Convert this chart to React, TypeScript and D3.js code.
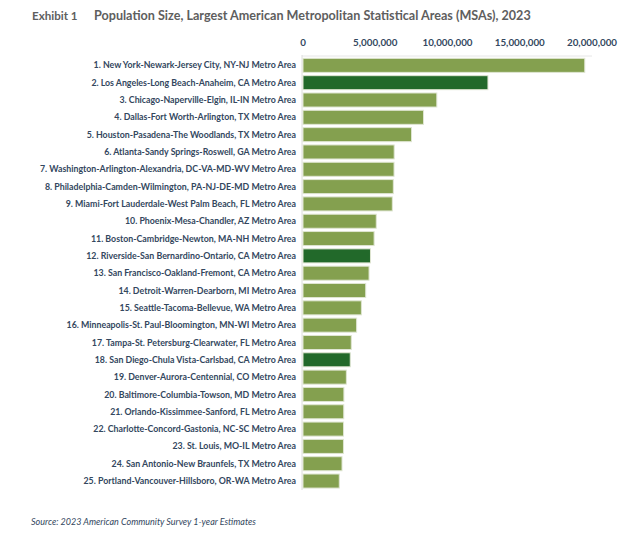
import React from "react";
import * as d3 from "d3";

const metros: string[] = [
  "1. New York-Newark-Jersey City, NY-NJ Metro Area",
  "2. Los Angeles-Long Beach-Anaheim, CA Metro Area",
  "3. Chicago-Naperville-Elgin, IL-IN Metro Area",
  "4. Dallas-Fort Worth-Arlington, TX Metro Area",
  "5. Houston-Pasadena-The Woodlands, TX Metro Area",
  "6. Atlanta-Sandy Springs-Roswell, GA Metro Area",
  "7. Washington-Arlington-Alexandria, DC-VA-MD-WV Metro Area",
  "8. Philadelphia-Camden-Wilmington, PA-NJ-DE-MD Metro Area",
  "9. Miami-Fort Lauderdale-West Palm Beach, FL Metro Area",
  "10. Phoenix-Mesa-Chandler, AZ Metro Area",
  "11. Boston-Cambridge-Newton, MA-NH Metro Area",
  "12. Riverside-San Bernardino-Ontario, CA Metro Area",
  "13. San Francisco-Oakland-Fremont, CA Metro Area",
  "14. Detroit-Warren-Dearborn, MI Metro Area",
  "15. Seattle-Tacoma-Bellevue, WA Metro Area",
  "16. Minneapolis-St. Paul-Bloomington, MN-WI Metro Area",
  "17. Tampa-St. Petersburg-Clearwater, FL Metro Area",
  "18. San Diego-Chula Vista-Carlsbad, CA Metro Area",
  "19. Denver-Aurora-Centennial, CO Metro Area",
  "20. Baltimore-Columbia-Towson, MD Metro Area",
  "21. Orlando-Kissimmee-Sanford, FL Metro Area",
  "22. Charlotte-Concord-Gastonia, NC-SC Metro Area",
  "23. St. Louis, MO-IL Metro Area",
  "24. San Antonio-New Braunfels, TX Metro Area",
  "25. Portland-Vancouver-Hillsboro, OR-WA Metro Area",
];

const population: number[] = [
  19500000, 12800000, 9260000, 8340000, 7510000, 6310000, 6300000, 6250000,
  6180000, 5070000, 4920000, 4670000, 4570000, 4340000, 4040000, 3710000,
  3340000, 3270000, 3000000, 2830000, 2820000, 2805000, 2800000, 2700000,
  2510000,
];

// Metros drawn in dark green in the reference
const highlightedRanks: number[] = [2, 12, 18];

const tickValues: number[] = [0, 5000000, 10000000, 15000000, 20000000];

const titleExhibit = "Exhibit 1";
const titleText =
  "Population Size, Largest American Metropolitan Statistical Areas (MSAs), 2023";
const sourceText = "Source: 2023 American Community Survey 1-year Estimates";

const W = 640;
const H = 551;
const X0 = 303;
const X1 = 592;
const Y0 = 56.7;
const STEP = 17.32;

export default function App() {
  const x = d3.scaleLinear().domain([0, 20000000]).range([X0, X1]);
  const y = d3
    .scaleBand<string>()
    .domain(metros)
    .range([Y0, Y0 + STEP * metros.length])
    .paddingInner(0.19)
    .paddingOuter(0.095);
  const fmt = d3.format(",");
  const font = "Lato, 'Open Sans', sans-serif";
  const textColor = "#33475e";

  return (
    <svg
      width={W}
      height={H}
      style={{ position: "absolute", left: 0, top: 0, background: "#fff" }}
      fontFamily={font}
    >
      <text x={32} y={20} fontSize={11.6} fontWeight={700} fill="#5e5e5e">
        {titleExhibit}
      </text>
      <text x={94} y={20} fontSize={12.6} fontWeight={700} fill="#5e5e5e">
        {titleText}
      </text>

      {tickValues.map((t) => (
        <text
          key={t}
          x={x(t)}
          y={46}
          fontSize={9.8}
          fontWeight={700}
          fill={textColor}
          textAnchor="middle"
        >
          {fmt(t)}
        </text>
      ))}

      <line x1={X0 - 1} x2={X1} y1={56} y2={56} stroke="#e6e6e6" strokeWidth={1} />
      <line x1={X0 - 1} x2={X0 - 1} y1={55} y2={490} stroke="#dcdcdc" strokeWidth={1} />

      {metros.map((m, i) => (
        <g key={m}>
          <rect
            x={x(0)}
            y={y(m)}
            width={x(population[i]) - x(0)}
            height={y.bandwidth()}
            fill={highlightedRanks.includes(i + 1) ? "#22692a" : "#84a04f"}
            stroke="#dfe5d2"
            strokeWidth={1}
          />
          <text
            x={296}
            y={(y(m) as number) + y.bandwidth() / 2}
            dy="0.35em"
            fontSize={8.8}
            fontWeight={700}
            fill={textColor}
            textAnchor="end"
          >
            {m}
          </text>
        </g>
      ))}

      <text x={31} y={525} fontSize={9} fontStyle="italic" fill={textColor}>
        {sourceText}
      </text>
    </svg>
  );
}
